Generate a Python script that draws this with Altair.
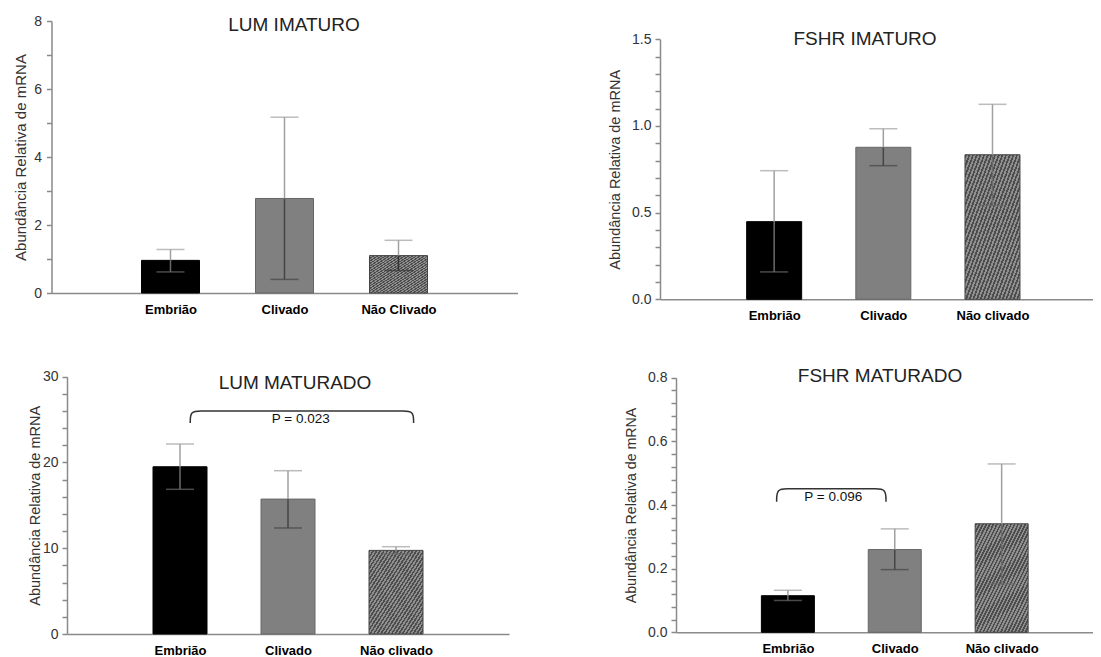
import json
import altair as alt
import pandas as pd

FONT = "Liberation Sans"
AXIS_COLOR = "#8a8a8a"
Y_TITLE = "Abundância Relativa de mRNA"

# ---------------- data ----------------
POSITIONS = [1, 2, 3]
CATEGORIES = ["Embrião", "Clivado", "Não clivado"]
CATEGORIES_LUM_IMATURO = ["Embrião", "Clivado", "Não Clivado"]

LUM_IMATURO_MEAN = [0.96, 2.78, 1.10]
LUM_IMATURO_LOW = [0.62, 0.40, 0.66]
LUM_IMATURO_HIGH = [1.28, 5.17, 1.55]

FSHR_IMATURO_MEAN = [0.448, 0.877, 0.834]
FSHR_IMATURO_LOW = [0.158, 0.771, 0.542]
FSHR_IMATURO_HIGH = [0.742, 0.984, 1.125]

LUM_MATURADO_MEAN = [19.5, 15.73, 9.75]
LUM_MATURADO_LOW = [16.87, 12.36, 9.33]
LUM_MATURADO_HIGH = [22.15, 19.04, 10.18]

FSHR_MATURADO_MEAN = [0.115, 0.260, 0.341]
FSHR_MATURADO_LOW = [0.100, 0.197, 0.152]
FSHR_MATURADO_HIGH = [0.132, 0.325, 0.529]

# significance brackets: x ends, (leg end, top) and text
LUM_MATURADO_BRACKET_X = [1.095, 3.163]
LUM_MATURADO_BRACKET_Y = [24.6, 26.0]
LUM_MATURADO_P_TEXT = "P = 0.023"
LUM_MATURADO_P_POS = [2.118, 25.1]

FSHR_MATURADO_BRACKET_X = [0.895, 1.918]
FSHR_MATURADO_BRACKET_Y = [0.410, 0.451]
FSHR_MATURADO_P_TEXT = "P = 0.096"
FSHR_MATURADO_P_POS = [1.425, 0.426]

# ---------------- styles ----------------
BAR_FILL = ["#000000", "#808080", "#606060"]
BAR_STROKE = ["#000000", "#666666", "#444444"]
WHISKER_LOW = ["#6a6a6a", "#444444", "#333333"]
WHISKER_HIGH = "#a0a0a0"


def stripes(n=30, dark="#4d4d4d", light="#8f8f8f"):
    stops = []
    for i in range(n):
        a, m, b = i / n, (i + 0.5) / n, (i + 1) / n
        stops += [
            {"offset": a, "color": dark},
            {"offset": m, "color": dark},
            {"offset": m, "color": light},
            {"offset": b, "color": light},
        ]
    return {"gradient": "linear", "x1": 0, "y1": 0, "x2": 1, "y2": 1, "stops": stops}


def panel(cats, mean, lo, hi, *, title, title_dx, title_dy, width, height,
          x_range, x_max, y_range, y_max, y_ticks, y_major, y_fmt, bar_size,
          y_title_x, y_title_size, y_label_padding, bracket=None):
    df = pd.DataFrame({"pos": POSITIONS, "cat": cats, "mean": mean, "lo": lo, "hi": hi})
    x_offset = -(height - y_range[0])

    xscale = alt.Scale(domain=[0, x_max], range=x_range, nice=False, zero=False)
    yscale = alt.Scale(domain=[0, y_max], range=y_range, nice=False, zero=True)
    xaxis = alt.Axis(
        values=POSITIONS,
        labelExpr=f"{json.dumps(cats, ensure_ascii=False)}[round(datum.value) - 1]",
        title=None, ticks=False, tickSize=0, grid=False,
        domainColor=AXIS_COLOR, domainWidth=1.5,
        labelFont=FONT, labelFontSize=13, labelFontWeight="bold", labelColor="#000000",
        labelPadding=10, labelFlush=False, labelOverlap=False, offset=x_offset,
    )
    yaxis = alt.Axis(
        values=y_ticks,
        labelExpr=(f"abs(datum.value / {y_major} - round(datum.value / {y_major})) < 1e-6 "
                   f"? format(datum.value, '{y_fmt}') : ''"),
        title=Y_TITLE, grid=False,
        domainColor=AXIS_COLOR, domainWidth=1.5,
        tickColor=AXIS_COLOR, tickWidth=1.5, tickSize=5,
        labelFont=FONT, labelFontSize=14, labelColor="#333333",
        labelPadding=y_label_padding, labelOverlap=False,
        titleFont=FONT, titleFontSize=y_title_size, titleFontWeight="normal",
        titleColor="#333333", titleX=y_title_x, titleBaseline="middle",
        offset=-x_range[0],
    )

    def X(field):
        return alt.X(f"{field}:Q", scale=xscale, axis=xaxis)

    def Y(field):
        return alt.Y(f"{field}:Q", scale=yscale, axis=yaxis, stack=None)

    base = alt.Chart(df)
    bars = base.transform_filter(alt.datum.cat != cats[2]).mark_bar(
        size=bar_size, orient="vertical", strokeWidth=1
    ).encode(
        x=X("pos"), y=Y("mean"),
        fill=alt.Fill("cat:N", scale=alt.Scale(domain=cats, range=BAR_FILL), legend=None),
        stroke=alt.Stroke("cat:N", scale=alt.Scale(domain=cats, range=BAR_STROKE), legend=None),
    )
    hatch = base.transform_filter(alt.datum.cat == cats[2]).mark_bar(
        size=bar_size, orient="vertical", fill=stripes(), stroke="#444444", strokeWidth=1
    ).encode(x=X("pos"), y=Y("mean"))

    low_color = alt.Color("cat:N", scale=alt.Scale(domain=cats, range=WHISKER_LOW), legend=None)
    rule_low = base.mark_rule(strokeWidth=1.5).encode(
        x=X("pos"), y=Y("lo"), y2=alt.Y2("mean"), color=low_color)
    rule_high = base.mark_rule(strokeWidth=1.5, color=WHISKER_HIGH).encode(
        x=X("pos"), y=Y("mean"), y2=alt.Y2("hi"))
    cap_low = base.mark_tick(orient="horizontal", size=28, thickness=1.5).encode(
        x=X("pos"), y=Y("lo"), color=low_color)
    cap_high = base.mark_tick(orient="horizontal", size=28, thickness=1.5, color=WHISKER_HIGH).encode(
        x=X("pos"), y=Y("hi"))

    layers = [bars, hatch, rule_low, rule_high, cap_low, cap_high]

    if bracket is not None:
        (bx0, bx1), (leg, top), text, (tx, ty) = bracket
        d = 0.1
        bdf = pd.DataFrame({
            "bx": [bx0, bx0, bx0 + d, bx0 + 2 * d, bx1 - 2 * d, bx1 - d, bx1, bx1],
            "by": [leg, top, top, top, top, top, top, leg],
            "i": list(range(8)),
        })
        line = alt.Chart(bdf).mark_line(interpolate="basis", color="#333333", strokeWidth=1.5).encode(
            x=X("bx"), y=Y("by"), order="i:Q")
        tdf = pd.DataFrame({"tx": [tx], "ty": [ty], "label": [text]})
        txt = alt.Chart(tdf).mark_text(font=FONT, fontSize=13.5, color="#111111", baseline="middle").encode(
            x=X("tx"), y=Y("ty"), text="label:N")
        layers += [line, txt]

    return alt.layer(*layers).properties(
        width=width, height=height,
        title=alt.TitleParams(
            title, font=FONT, fontSize=19, fontWeight="normal", color="#222222",
            anchor="middle", frame="group", offset=0, baseline="middle",
            dx=title_dx, dy=title_dy,
        ),
    )


p1 = panel(CATEGORIES_LUM_IMATURO, LUM_IMATURO_MEAN, LUM_IMATURO_LOW, LUM_IMATURO_HIGH,
           title="LUM IMATURO", title_dx=15, title_dy=35.5, width=542, height=322,
           x_range=[43.5, 509.5], x_max=4.0, y_range=[285, 13], y_max=8,
           y_ticks=list(range(0, 9)), y_major=2, y_fmt=".0f", bar_size=58,
           y_title_x=-31, y_title_size=15, y_label_padding=5)

p2 = panel(CATEGORIES, FSHR_IMATURO_MEAN, FSHR_IMATURO_LOW, FSHR_IMATURO_HIGH,
           title="FSHR IMATURO", title_dx=43.5, title_dy=49.5, width=543, height=322,
           x_range=[110, 543], x_max=3.875, y_range=[291.3, 31.3], y_max=1.5,
           y_ticks=[round(i * 0.1, 2) for i in range(16)], y_major=0.5, y_fmt=".1f", bar_size=55,
           y_title_x=-45, y_title_size=14.5, y_label_padding=4)

p3 = panel(CATEGORIES, LUM_MATURADO_MEAN, LUM_MATURADO_LOW, LUM_MATURADO_HIGH,
           title="LUM MATURADO", title_dx=16, title_dy=72, width=542, height=321,
           x_range=[59, 501], x_max=4.0, y_range=[304, 46.7], y_max=30,
           y_ticks=list(range(0, 31, 2)), y_major=10, y_fmt=".0f", bar_size=54,
           y_title_x=-32, y_title_size=14.5, y_label_padding=4,
           bracket=(LUM_MATURADO_BRACKET_X, LUM_MATURADO_BRACKET_Y, LUM_MATURADO_P_TEXT, LUM_MATURADO_P_POS))

p4 = panel(CATEGORIES, FSHR_MATURADO_MEAN, FSHR_MATURADO_LOW, FSHR_MATURADO_HIGH,
           title="FSHR MATURADO", title_dx=58.5, title_dy=65, width=543, height=321,
           x_range=[126, 543], x_max=3.808, y_range=[302.3, 47.7], y_max=0.8,
           y_ticks=[round(i * 0.04, 2) for i in range(21)], y_major=0.2, y_fmt=".1f", bar_size=53,
           y_title_x=-45, y_title_size=14.2, y_label_padding=4,
           bracket=(FSHR_MATURADO_BRACKET_X, FSHR_MATURADO_BRACKET_Y, FSHR_MATURADO_P_TEXT, FSHR_MATURADO_P_POS))

chart = alt.concat(p1, p2, p3, p4, columns=2, spacing=0, bounds="flush").properties(
    padding=0
).configure_view(stroke=None)

chart.save("out.html", embed_options={"renderer": "svg", "actions": False})
